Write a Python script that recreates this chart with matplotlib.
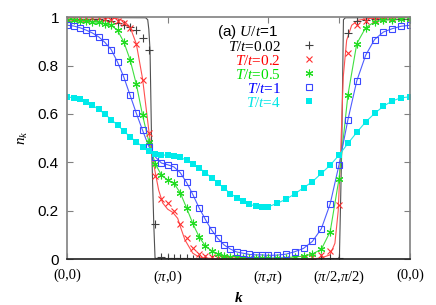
import numpy as np
import matplotlib
matplotlib.use("Agg")
import matplotlib.pyplot as plt

plt.rcParams['mathtext.fontset'] = 'custom'
plt.rcParams['mathtext.rm'] = 'Liberation Serif'
plt.rcParams['mathtext.it'] = 'Liberation Serif:italic'
plt.rcParams['mathtext.bf'] = 'Liberation Serif:bold:italic'

# k-path (units of pi/16): (0,0)->(pi,0)->(pi,pi)->(pi/2,pi/2)->(0,0)
kpts = [(n, 0) for n in range(17)] + [(16, m) for m in range(1, 17)] \
     + [(16 - j, 16 - j) for j in range(1, 9)] + [(8 - j, 8 - j) for j in range(1, 9)]

# n_k on the k-path, markers (finite lattice)
nk_T002 = [0.995, 0.995, 0.995, 0.994, 0.993, 0.992, 0.99, 0.985, 0.975, 0.97, 0.96, 0.946, 0.916, 0.864, 0.143, 0.01, 0.005,
           0.004, 0.003, 0.003, 0.002, 0.002, 0.002, 0.002, 0.002, 0.002, 0.002, 0.002, 0.002, 0.002, 0.002, 0.002, 0.002,
           0.002, 0.002, 0.002, 0.002, 0.002, 0.003, 0.004, 0.006,
           0.935, 0.985, 0.99, 0.993, 0.995, 0.995, 0.995, 0.995]
nk_T02 = [0.998, 0.998, 0.998, 0.998, 0.997, 0.996, 0.994, 0.99, 0.985, 0.975, 0.955, 0.89, 0.74, 0.52, 0.345, 0.248, 0.23,
          0.2, 0.143, 0.085, 0.044, 0.021, 0.012, 0.007, 0.004, 0.003, 0.002, 0.002, 0.001, 0.001, 0.001, 0.001, 0.001,
          0.001, 0.002, 0.003, 0.005, 0.009, 0.018, 0.035, 0.223,
          0.853, 0.969, 0.985, 0.99, 0.995, 0.997, 0.998, 0.998]
nk_T05 = [0.99, 0.988, 0.985, 0.983, 0.981, 0.979, 0.974, 0.967, 0.946, 0.898, 0.825, 0.723, 0.594, 0.485, 0.395, 0.347, 0.327,
          0.313, 0.274, 0.212, 0.147, 0.092, 0.054, 0.034, 0.021, 0.014, 0.01, 0.008, 0.006, 0.005, 0.005, 0.004, 0.004,
          0.005, 0.006, 0.008, 0.012, 0.021, 0.04, 0.113, 0.333,
          0.678, 0.891, 0.957, 0.981, 0.988, 0.99, 0.991, 0.991]
nk_T1 = [0.967, 0.964, 0.957, 0.947, 0.935, 0.919, 0.896, 0.866, 0.815, 0.753, 0.678, 0.603, 0.532, 0.465, 0.423, 0.397, 0.39,
         0.381, 0.357, 0.317, 0.267, 0.212, 0.164, 0.12, 0.085, 0.058, 0.041, 0.029, 0.024, 0.019, 0.017, 0.017, 0.015,
         0.016, 0.02, 0.03, 0.044, 0.073, 0.125, 0.228, 0.39,
         0.576, 0.737, 0.843, 0.908, 0.939, 0.953, 0.963, 0.967]
nk_T4 = [0.67, 0.668, 0.661, 0.65, 0.636, 0.619, 0.599, 0.577, 0.554, 0.53, 0.505, 0.485, 0.464, 0.448, 0.434, 0.43, 0.43,
         0.427, 0.42, 0.409, 0.395, 0.377, 0.357, 0.336, 0.315, 0.292, 0.271, 0.253, 0.24, 0.227, 0.219, 0.216, 0.216,
         0.23, 0.247, 0.269, 0.295, 0.32, 0.354, 0.388, 0.43,
         0.478, 0.524, 0.567, 0.602, 0.632, 0.654, 0.667, 0.671]

# curves for T/t=0.02 and 0.2 (path position in units of pi, n_k)
line_T002_x = [0, 0.78, 0.801, 0.812, 0.824, 0.841, 0.861, 0.874, 0.9, 2.70, 2.711, 2.733, 2.751, 2.77, 3.414]
line_T002_y = [0.999, 0.998, 0.99, 0.95, 0.864, 0.45, 0.148, 0.004, 0.001, 0.001, 0.01, 0.44, 0.99, 0.998, 0.999]
line_T02_x = [0, 0.4, 0.5, 0.5625, 0.625, 0.6875, 0.75, 0.8125, 0.841, 0.875, 0.91, 0.95, 1.0, 1.05, 1.1, 1.125,
              1.172, 1.25, 1.3125, 1.375, 1.5, 2.0, 2.4, 2.517, 2.617, 2.666, 2.699, 2.723, 2.749, 2.783, 2.833,
              2.898, 3.0, 3.414]
line_T02_y = [0.999, 0.998, 0.994, 0.985, 0.96, 0.89, 0.745, 0.53, 0.443, 0.36, 0.285, 0.232, 0.206, 0.193, 0.168, 0.135,
              0.079, 0.024, 0.008, 0.004, 0.001, 0.0, 0.001, 0.003, 0.017, 0.065, 0.2, 0.437, 0.753, 0.905, 0.967,
              0.988, 0.995, 0.999]

labels = ['0.02', '0.2', '0.5', '1', '4']
xtick_labels = ['(0,0)', r'($\pi$,0)', r'($\pi$,$\pi$)', r'($\pi$/2,$\pi$/2)', '(0,0)']

# path distance in units of pi
kp = np.array(kpts, dtype=float) / 16.0
kx = np.concatenate([[0], np.cumsum(np.hypot(*np.diff(kp, axis=0).T))])
xmax = 2 + np.sqrt(2)

fig = plt.figure(figsize=(4.36, 3.05), dpi=100)
ax = fig.add_axes([0.1544, 0.1508, 0.7860, 0.7925])

ax.plot(line_T002_x, line_T002_y, color='#505050', lw=0.8)
ax.plot(line_T02_x, line_T02_y, color='#ff5050', lw=0.8)
ax.plot(kx, nk_T05, color='#40e040', lw=0.8)
ax.plot(kx, nk_T1, color='#4d5cff', lw=0.8)
ax.plot(kx, nk_T4, color='#20e8e8', lw=0.8)

h1, = ax.plot(kx, nk_T002, ls='none', marker='+', ms=5.5, mew=0.8, color='#404040')
h2, = ax.plot(kx, nk_T02, ls='none', marker='x', ms=5, mew=0.8, color='#ff3030')
h3, = ax.plot(kx, nk_T05, ls='none', marker=(6, 2, 0), ms=5.5, mew=0.8, color='#22dd22')
h4, = ax.plot(kx, nk_T1, ls='none', marker='s', ms=5, mew=0.8, mfc='none', color='#3a48ff')
h5, = ax.plot(kx, nk_T4, ls='none', marker='s', ms=4.3, mew=0, color='#00eaea')

ax.set_xlim(0, xmax)
ax.set_ylim(0, 1)
ax.set_xticks([0, 1, 2, 2 + np.sqrt(2) / 2, xmax])
ax.set_xticklabels(xtick_labels, family='Liberation Serif', fontsize=10.5)
ax.set_yticks([0, 0.2, 0.4, 0.6, 0.8, 1.0])
ax.set_yticklabels(['0', '0.2', '0.4', '0.6', '0.8', '1'], family='Liberation Sans', fontsize=11)
ax.tick_params(direction='in', length=4, width=0.8, color='#808080', top=True, right=True)
ax.tick_params(axis='x', pad=7)
ax.tick_params(axis='y', pad=6)
for s in ['left', 'top', 'right']:
    ax.spines[s].set_color('#808080')
    ax.spines[s].set_linewidth(1.2)
ax.spines['bottom'].set_color('#202020')
ax.spines['bottom'].set_linewidth(1.2)

ax.set_ylabel(r'$n_k$', fontsize=11, labelpad=6)
ax.set_xlabel('k', family='Liberation Serif', style='italic', weight='bold', fontsize=11, labelpad=4)

cols = ['#000000', '#ff0000', '#00e000', '#0000ff', '#00e5e5']
leg = ax.legend([h1, h2, h3, h4, h5], [r'$T/t$=' + s for s in labels],
                loc='upper right', bbox_to_anchor=(0.762, 0.958), frameon=False,
                markerfirst=False, handlelength=1.0, handletextpad=1.3, labelspacing=0.0,
                prop={'family': 'Liberation Serif', 'size': 11}, borderpad=0.3)
for t, c in zip(leg.get_texts(), cols):
    t.set_color(c)
ax.text(0.615, 0.94, r'(a) $U/t$=1', transform=ax.transAxes, ha='right', va='center',
        family='Liberation Sans', fontsize=11)

fig.savefig('out.png', dpi=100)
